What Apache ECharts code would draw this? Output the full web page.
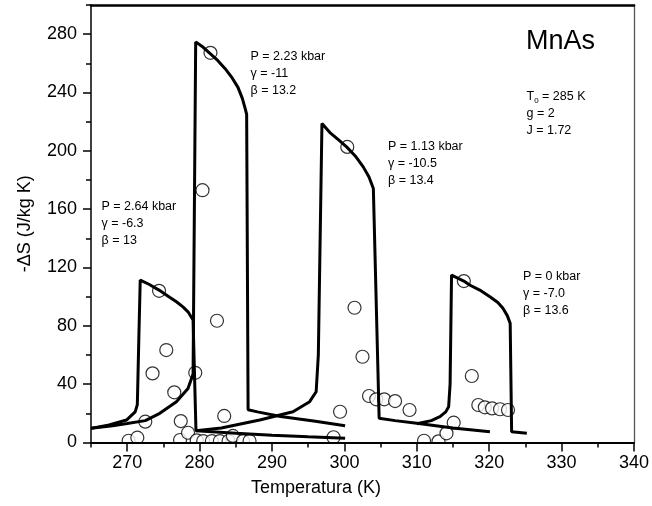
<!DOCTYPE html>
<html>
<head>
<meta charset="utf-8">
<script src="https://cdn.jsdelivr.net/npm/echarts@6/dist/echarts.min.js"></script>
<style>html,body{margin:0;padding:0;background:#fff}#c{width:652px;height:506px}</style>
</head>
<body>
<div id="c"></div>
<script>
// ---------- tick labels ----------
const xMajor = [270, 280, 290, 300, 310, 320, 330, 340];
const xMinor = [265, 275, 285, 295, 305, 315, 325, 335];
const yMajor = [0, 40, 80, 120, 160, 200, 240, 280];
const yMinor = [20, 60, 100, 140, 180, 220, 260, 300];

// ---------- model curves (theory) ----------
const fitT_264 = [265, 267.5, 269.9, 271.1, 271.4, 271.6, 271.8, 273.0, 274.4, 275.6, 276.8, 277.7, 278.4, 279.1, 279.5, 285, 290, 295, 300.1];
const fitS_264 = [9.7, 12, 15.4, 21, 26, 70, 111.4, 108.5, 104.5, 100.5, 96.5, 93, 89.6, 84, 8.1, 6.4, 5, 3.9, 2.9];

const fitT_223 = [265, 268, 270, 272.5, 274.5, 276.8, 278.4, 279.1, 279.46, 280.5, 281.5, 282.5, 283.5, 284.5, 285.3, 285.9, 286.3, 286.5, 286.7, 288, 291.2, 296, 300.1];
const fitS_223 = [9.7, 11.5, 13, 15, 20, 28, 37, 47, 274.7, 271, 266.5, 262, 256.5, 250, 243.5, 236, 229, 225, 22.5, 21, 17.8, 14.5, 11.5];

const fitT_113 = [279.5, 283, 288.3, 292.9, 295.2, 296.1, 296.4, 296.9, 298, 299.2, 300.3, 301.5, 302.6, 303.4, 304.0, 304.8, 307, 310, 315, 320.1];
const fitS_113 = [8, 10, 15.4, 21.1, 28, 34.8, 60, 218.8, 212.5, 207.5, 202.7, 196.5, 189, 182, 174.2, 16.6, 15, 13.2, 10, 7.4];

const fitT_0 = [310, 312, 313.2, 314, 314.4, 314.6, 314.8, 316.5, 317.3, 318.7, 320.1, 321.2, 321.9, 322.5, 322.9, 323.1, 325.2];
const fitS_0 = [12.8, 15, 17.7, 21, 24.5, 40, 114.8, 110.7, 108, 104.5, 99.9, 96, 92, 87, 81.7, 7.4, 6.3];

// ---------- experimental points ----------
const expT_264 = [270.2, 271.4, 272.5, 273.5, 274.4, 275.4, 276.5, 277.3, 277.4, 278.4];
const expS_264 = [1.2, 3.3, 14.3, 47.4, 104, 63.4, 34.4, 1.7, 14.7, 6.7];

const expT_223 = [279.4, 279.6, 280.4, 280.5, 281.5, 281.7, 282.4, 282.8, 283.4, 284.0, 284.6, 286.0, 286.9];
const expS_223 = [47.8, 1.5, 173, 1, 267.2, 1, 83.5, 1, 18.2, 1, 4.5, 1, 1];

const expT_113 = [298.5, 299.4, 300.4, 301.4, 302.5, 303.4, 304.4, 305.5, 307.0, 309.0];
const expS_113 = [3.6, 21.1, 202.7, 92.4, 58.8, 31.9, 29.6, 29.6, 28.4, 22.3];

const expT_0 = [311, 313, 314.1, 315.1, 316.5, 317.6, 318.5, 319.4, 320.4, 321.5, 322.6];
const expS_0 = [1.2, 0.8, 6.3, 13.6, 110.7, 45.6, 25.7, 24.1, 23.4, 22.8, 22.3];

const pts = (xs, ys) => xs.map((x, i) => [x, ys[i]]);
const FONT = 'Liberation Sans, Arial, Helvetica, sans-serif';

const lineSeries = (name, xs, ys) => ({
  name, type: 'line', data: pts(xs, ys), showSymbol: false, symbol: 'none',
  lineStyle: { color: '#000', width: 3 }, z: 3, animation: false, clip: false
});
const dotSeries = (name, xs, ys) => ({
  name, type: 'scatter', data: pts(xs, ys), symbol: 'circle', symbolSize: 13,
  itemStyle: { color: '#fff', borderColor: '#000', borderWidth: 1.2 }, z: -2, animation: false
});

const baseX = { type: 'value', min: 265, max: 340, splitLine: { show: false }, gridIndex: 0 };
const baseY = { type: 'value', min: 0, max: 300, splitLine: { show: false }, gridIndex: 0 };

const chart = echarts.init(document.getElementById('c'), null, { renderer: 'canvas' });
chart.setOption({
  backgroundColor: '#fff',
  animation: false,
  grid: { left: 91, right: 18, top: 5, bottom: 63.5, containLabel: false },
  xAxis: [
    Object.assign({}, baseX, {
      position: 'bottom',
      axisLine: { show: true, onZero: false, lineStyle: { color: '#000', width: 2 } },
      axisTick: { show: true, customValues: xMajor, length: 9, lineStyle: { color: '#000', width: 1.5 } },
      axisLabel: { customValues: xMajor, fontSize: 18, color: '#000', margin: 12, fontFamily: FONT },
      name: 'Temperatura (K)', nameLocation: 'middle', nameGap: 37,
      nameTextStyle: { fontSize: 18, color: '#000', fontFamily: FONT, padding: [0, 93, 0, 0] }
    }),
    Object.assign({}, baseX, {
      position: 'bottom',
      axisLine: { show: false, onZero: false },
      axisTick: { show: true, customValues: xMinor, length: 5, lineStyle: { color: '#000', width: 1.5 } },
      axisLabel: { show: false }
    }),
    Object.assign({}, baseX, {
      position: 'top',
      axisLine: { show: true, onZero: false, lineStyle: { color: '#000', width: 2.5 } },
      axisTick: { show: false }, axisLabel: { show: false }
    })
  ],
  yAxis: [
    Object.assign({}, baseY, {
      position: 'left',
      axisLine: { show: true, onZero: false, lineStyle: { color: '#000', width: 1.5 } },
      axisTick: { show: true, customValues: yMajor, length: 8, lineStyle: { color: '#000', width: 1.5 } },
      axisLabel: { customValues: yMajor, fontSize: 18, color: '#000', margin: 14, fontFamily: FONT },
      name: '-ΔS (J/kg K)', nameLocation: 'middle', nameGap: 57, nameRotate: 90,
      nameTextStyle: { fontSize: 18, color: '#000', fontFamily: FONT }
    }),
    Object.assign({}, baseY, {
      position: 'left',
      axisLine: { show: false, onZero: false },
      axisTick: { show: true, customValues: yMinor, length: 5, lineStyle: { color: '#000', width: 1.5 } },
      axisLabel: { show: false }
    }),
    Object.assign({}, baseY, {
      position: 'right',
      axisLine: { show: true, onZero: false, lineStyle: { color: '#555', width: 1.3 } },
      axisTick: { show: false }, axisLabel: { show: false }
    })
  ],
  series: [
    dotSeries('exp 2.64', expT_264, expS_264),
    dotSeries('exp 2.23', expT_223, expS_223),
    dotSeries('exp 1.13', expT_113, expS_113),
    dotSeries('exp 0', expT_0, expS_0),
    lineSeries('fit 2.64', fitT_264, fitS_264),
    lineSeries('fit 2.23', fitT_223, fitS_223),
    lineSeries('fit 1.13', fitT_113, fitS_113),
    lineSeries('fit 0', fitT_0, fitS_0)
  ]
});

// annotations + white mask below x axis (hides lower halves of circles, like the clipped original)
const p0 = chart.convertToPixel({ xAxisIndex: 0, yAxisIndex: 0 }, [265, 0]);
const p1 = chart.convertToPixel({ xAxisIndex: 0, yAxisIndex: 0 }, [340, 0]);
const txt = (x, y, text, size, extra) => Object.assign({
  type: 'text', x, y, z: 10, silent: true,
  style: { text, fontSize: size || 12.5, fontFamily: FONT, fill: '#000', lineHeight: 16.7, verticalAlign: 'top', align: 'left' }
}, extra || {});

chart.setOption({
  graphic: [
    { type: 'rect', z: -1, silent: true,
      shape: { x: p0[0] + 1, y: p0[1] + 1.2, width: p1[0] - p0[0] - 1, height: 14 },
      style: { fill: '#fff' } },
    txt(250.5, 48.5, 'P = 2.23 kbar\nγ = -11\nβ = 13.2'),
    txt(101.5, 198.5, 'P = 2.64 kbar\nγ = -6.3\nβ = 13'),
    txt(388, 138.5, 'P = 1.13 kbar\nγ = -10.5\nβ = 13.4'),
    txt(523, 268.5, 'P = 0 kbar\nγ = -7.0\nβ = 13.6'),
    txt(526, 28, 'MnAs', 27, { style: { text: 'MnAs', fontSize: 27, fontFamily: FONT, fill: '#000', verticalAlign: 'top', align: 'left' } }),
    { type: 'text', x: 526.5, y: 88.5, z: 10, silent: true,
      style: {
        text: 'T{s|0} = 285 K\ng = 2\nJ = 1.72',
        fontSize: 12.5, fontFamily: FONT, fill: '#000', lineHeight: 16.7, verticalAlign: 'top', align: 'left',
        rich: { s: { fontSize: 8, fontFamily: FONT, fill: '#000', padding: [7, 0, 0, 0], lineHeight: 16.7 } }
      } }
  ]
});
</script>
</body>
</html>
